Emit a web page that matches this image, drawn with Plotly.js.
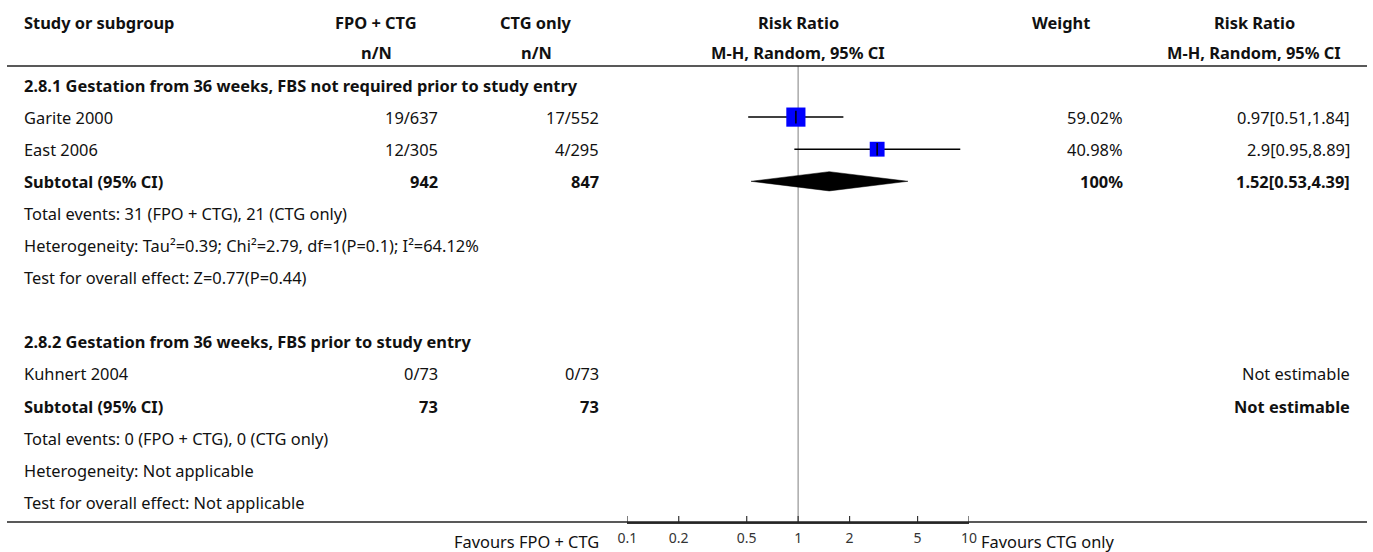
<!DOCTYPE html>
<html>
<head>
<meta charset="utf-8">
<script src="https://cdn.plot.ly/plotly-3.0.1.min.js"></script>
<style>html,body{margin:0;padding:0;background:#fff;}#chart{width:1373px;height:552px;}</style>
</head>
<body>
<div id="chart"></div>
<script>
// ---- data ----
const headers1 = ["Study or subgroup", "FPO + CTG", "CTG only", "Risk Ratio", "Weight", "Risk Ratio"];
const headers2 = ["", "n/N", "n/N", "M-H, Random, 95% CI", "", "M-H, Random, 95% CI"];
const groupTitles = ["2.8.1 Gestation from 36 weeks, FBS not required prior to study entry",
                     "2.8.2 Gestation from 36 weeks, FBS prior to study entry"];
const studies = ["Garite 2000", "East 2006", "Kuhnert 2004"];
const studyGroup = [0, 0, 1];
const eventsFPO = [19, 12, 0];
const totalFPO = [637, 305, 73];
const eventsCTG = [17, 4, 0];
const totalCTG = [552, 295, 73];
const weights = ["59.02%", "40.98%", null];
const weightVals = [59.02, 40.98, null];
const rr = [0.97, 2.9, null];
const rrLo = [0.51, 0.95, null];
const rrHi = [1.84, 8.89, null];
const subTotalFPO = [942, 73];
const subTotalCTG = [847, 73];
const subWeight = ["100%", null];
const subRR = [1.52, null];
const subLo = [0.53, null];
const subHi = [4.39, null];
const totalEvents = ["Total events: 31 (FPO + CTG), 21 (CTG only)", "Total events: 0 (FPO + CTG), 0 (CTG only)"];
const heterogeneity = ["Heterogeneity: Tau\u00b2=0.39; Chi\u00b2=2.79, df=1(P=0.1); I\u00b2=64.12%", "Heterogeneity: Not applicable"];
const overallEffect = ["Test for overall effect: Z=0.77(P=0.44)", "Test for overall effect: Not applicable"];
const tickVals = [0.1, 0.2, 0.5, 1, 2, 5, 10];
const tickText = ["0.1", "0.2", "0.5", "1", "2", "5", "10"];
const favourLeft = "Favours FPO + CTG";
const favourRight = "Favours CTG only";

// ---- layout helpers ----
const W = 1373, H = 552;
const FONT = "'Noto Sans', sans-serif";
const FS = 16.4;
const px = p => p / W;
const py = p => 1 - p / H;
const colStudy = px(22), colFPO = px(440), colCTG = px(601), colWeight = px(1125), colRR = px(1352);
const hdrCenters = [null, px(376), px(536), px(798), px(1061), px(1254)];

// row layout: each group -> title, studies..., subtotal, total events, heterogeneity, overall effect, blank
const rows = [];
const studyRow = {}, subRow = {};
let r = 0;
for (let g = 0; g < groupTitles.length; g++) {
  rows.push({type: "title", g, r: r++});
  studies.forEach((s, i) => { if (studyGroup[i] === g) { studyRow[i] = r; rows.push({type: "study", i, r: r++}); } });
  subRow[g] = r; rows.push({type: "sub", g, r: r++});
  rows.push({type: "te", g, r: r++});
  rows.push({type: "het", g, r: r++});
  rows.push({type: "oe", g, r: r++});
  r++;
}

const ann = [];
function txt(x, y, text, align, bold, yref, size) {
  ann.push({xref: "paper", yref: yref || "y", x, y, text: bold ? "<b>" + text + "</b>" : text,
    xanchor: align, yanchor: "middle", showarrow: false,
    font: {family: FONT, size: size || FS, color: "#111"}});
}
// headers
headers1.forEach((h, k) => { if (h) txt(k === 0 ? colStudy : hdrCenters[k], py(23), h, k === 0 ? "left" : "center", true, "paper"); });
headers2.forEach((h, k) => { if (h) txt(hdrCenters[k], py(53), h, "center", true, "paper"); });

rows.forEach(row => {
  if (row.type === "title") txt(colStudy, row.r, groupTitles[row.g], "left", true);
  if (row.type === "study") {
    const i = row.i;
    txt(colStudy, row.r, studies[i], "left", false);
    txt(colFPO, row.r, eventsFPO[i] + "/" + totalFPO[i], "right", false);
    txt(colCTG, row.r, eventsCTG[i] + "/" + totalCTG[i], "right", false);
    if (weights[i]) txt(colWeight, row.r, weights[i], "right", false);
    txt(colRR, row.r, rr[i] != null ? rr[i] + "[" + rrLo[i] + "," + rrHi[i] + "]" : "Not estimable", "right", false);
  }
  if (row.type === "sub") {
    const g = row.g;
    txt(colStudy, row.r, "Subtotal (95% CI)", "left", true);
    txt(colFPO, row.r, String(subTotalFPO[g]), "right", true);
    txt(colCTG, row.r, String(subTotalCTG[g]), "right", true);
    if (subWeight[g]) txt(colWeight, row.r, subWeight[g], "right", true);
    txt(colRR, row.r, subRR[g] != null ? subRR[g] + "[" + subLo[g] + "," + subHi[g] + "]" : "Not estimable", "right", true);
  }
  if (row.type === "te") txt(colStudy, row.r, totalEvents[row.g], "left", false);
  if (row.type === "het") txt(colStudy, row.r, heterogeneity[row.g], "left", false);
  if (row.type === "oe") txt(colStudy, row.r, overallEffect[row.g], "left", false);
});
txt(px(601), py(541), favourLeft, "right", false, "paper");
txt(px(979), py(541), favourRight, "left", false, "paper");

// ---- traces ----
const yBottom = 522;
const rowPx0 = 85, rowStep = 32.1;
const tickRow = (yBottom - 2.5 - rowPx0) / rowStep;   // tick marks sit just above the axis line
const traces = [];
traces.push({x: tickVals, y: tickVals.map(() => tickRow), mode: "markers",
  marker: {symbol: "line-ns", size: 5, line: {color: "#333", width: 1.2}},
  hoverinfo: "skip", showlegend: false});
studies.forEach((s, i) => {
  if (rr[i] == null) return;
  traces.push({x: [rrLo[i], rrHi[i]], y: [studyRow[i], studyRow[i]], mode: "lines",
    line: {color: "#000", width: 1.5}, hoverinfo: "skip", showlegend: false});
  traces.push({x: [rr[i]], y: [studyRow[i]], mode: "markers",
    marker: {symbol: "square", color: "#0000ff", size: 5 + weightVals[i] * 0.24, line: {width: 0}},
    hoverinfo: "skip", showlegend: false});
  traces.push({x: [rr[i]], y: [studyRow[i]], mode: "markers",
    marker: {symbol: "line-ns", size: 9, line: {color: "#000", width: 1.5}},
    hoverinfo: "skip", showlegend: false});
});
groupTitles.forEach((t, g) => {
  if (subRR[g] == null) return;
  const y = subRow[g], h = 0.3;
  traces.push({x: [subLo[g], subRR[g], subHi[g], subRR[g], subLo[g]], y: [y, y - h, y, y + h, y],
    mode: "lines", fill: "toself", fillcolor: "#000", line: {color: "#000", width: 0.5},
    hoverinfo: "skip", showlegend: false});
});

const layout = {
  width: W, height: H,
  margin: {l: 0, r: 0, t: 0, b: 0},
  paper_bgcolor: "#fff", plot_bgcolor: "rgba(0,0,0,0)",
  showlegend: false,
  xaxis: {type: "log", domain: [px(627.3), px(969)], range: [-1, 1],
    tickvals: tickVals, ticktext: tickText, ticks: "", ticklabelstandoff: 3,
    showgrid: false, zeroline: false, showline: true, linecolor: "#333", linewidth: 1.5,
    tickfont: {family: FONT, size: 14, color: "#333"}, fixedrange: true},
  yaxis: {domain: [(H - yBottom) / H, 1],
    range: [(yBottom - rowPx0) / rowStep, -rowPx0 / rowStep],
    showgrid: false, zeroline: false, showline: false, showticklabels: false, ticks: "", fixedrange: true},
  shapes: [
    {type: "line", xref: "paper", yref: "paper", x0: px(7), x1: px(1367), y0: py(66), y1: py(66), line: {color: "#222", width: 1.5}},
    {type: "line", xref: "paper", yref: "paper", x0: px(7), x1: px(1367), y0: py(yBottom), y1: py(yBottom), line: {color: "#222", width: 1.5}},
    {type: "line", xref: "x", yref: "paper", x0: 1, x1: 1, y0: py(66), y1: py(yBottom), line: {color: "#aaa", width: 1.5}, layer: "below"}
  ],
  annotations: ann
};
Plotly.newPlot("chart", traces, layout, {staticPlot: true, displayModeBar: false});
</script>
</body>
</html>
